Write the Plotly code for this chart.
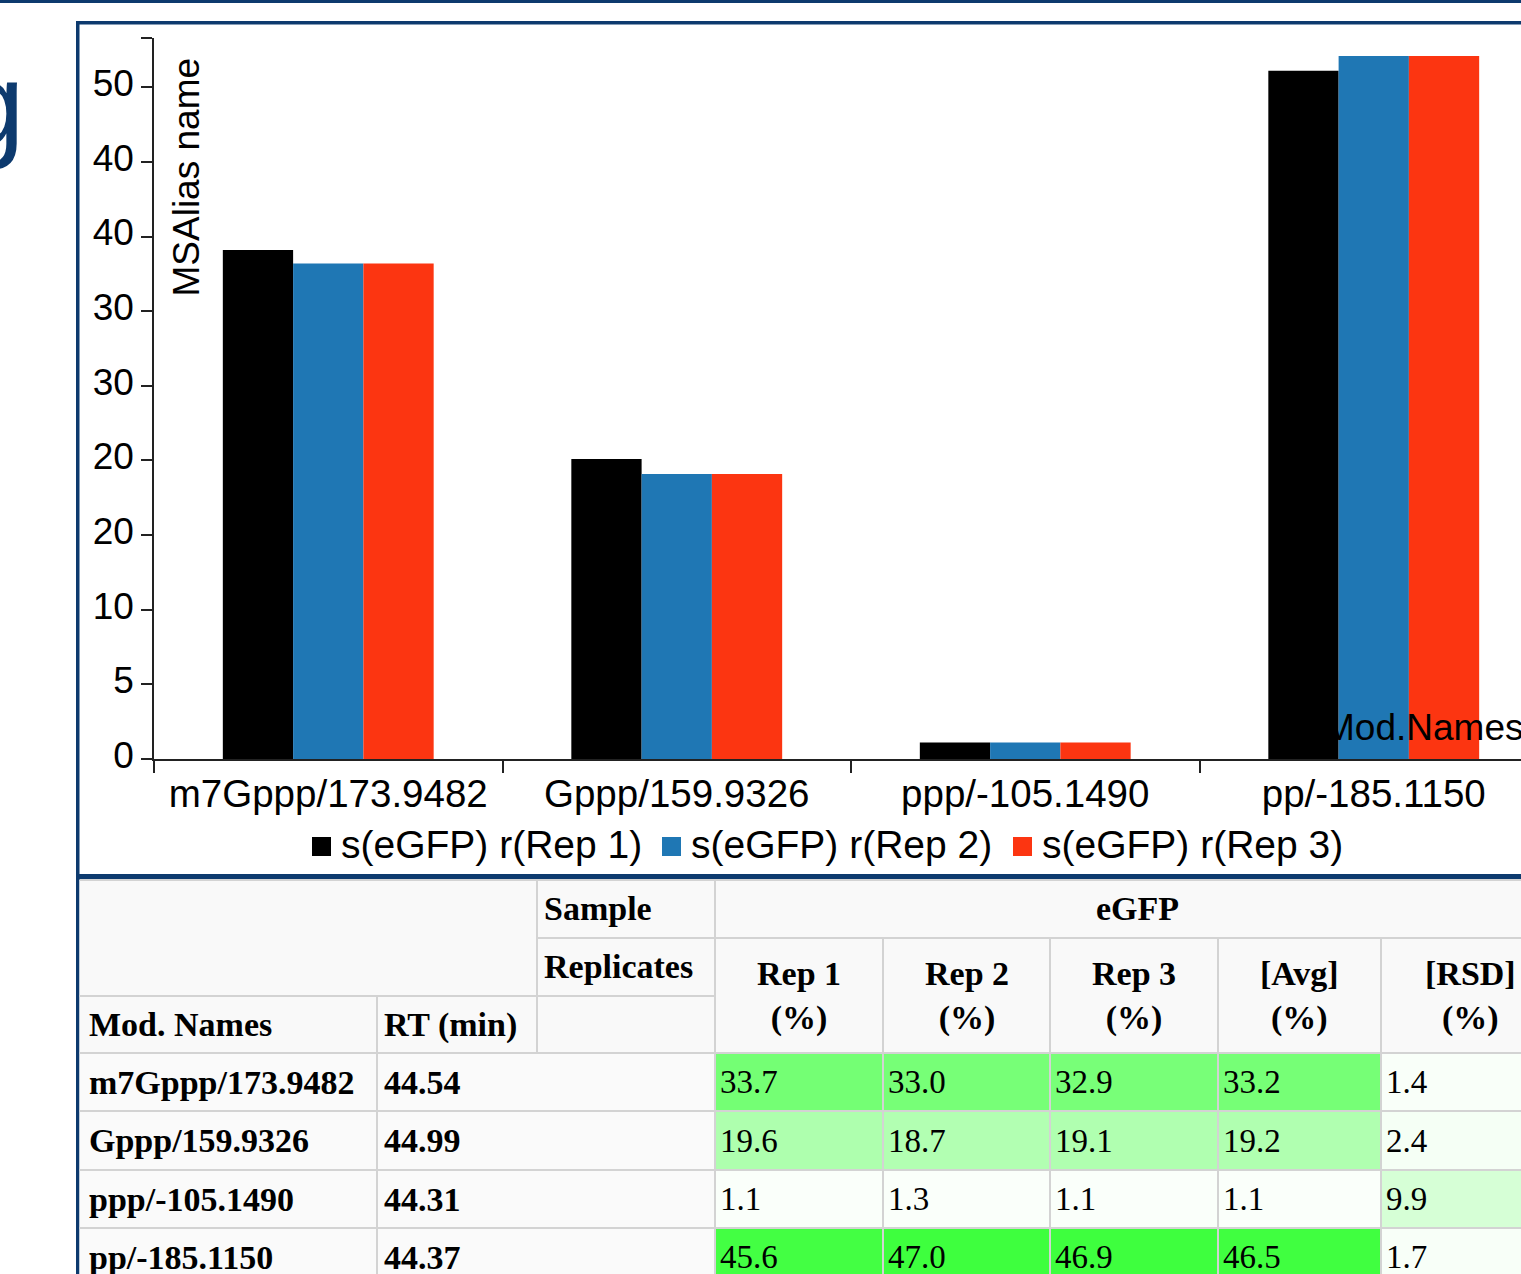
import plotly.graph_objects as go

# ---------------- data ----------------
categories = ["m7Gppp/173.9482", "Gppp/159.9326", "ppp/-105.1490", "pp/-185.1150"]
series_names = ["s(eGFP) r(Rep 1)", "s(eGFP) r(Rep 2)", "s(eGFP) r(Rep 3)"]
rep1_bar = [34.1, 20.1, 1.1, 46.1]
rep2_bar = [33.2, 19.1, 1.1, 47.1]
rep3_bar = [33.2, 19.1, 1.1, 47.1]
y_tick_vals = [0, 5, 10, 15, 20, 25, 30, 35, 40, 45]
y_tick_text = ["0", "5", "10", "20", "20", "30", "30", "40", "40", "50"]
y_max = 48.3
y_title = "MSAlias name"
x_title = "Mod.Names"
slide_title_fragment = "g"

table_rt = ["44.54", "44.99", "44.31", "44.37"]
rep1_pct = [33.7, 19.6, 1.1, 45.6]
rep2_pct = [33.0, 18.7, 1.3, 47.0]
rep3_pct = [32.9, 19.1, 1.1, 46.9]
avg_pct = [33.2, 19.2, 1.1, 46.5]
rsd_pct = [1.4, 2.4, 9.9, 1.7]
value_headers = ["Rep 1<br>(%)", "Rep 2<br>(%)", "Rep 3<br>(%)", "[Avg]<br>(%)", "[RSD]<br>(%)"]
sample_label = "Sample"
replicates_label = "Replicates"
sample_name = "eGFP"
name_header = "Mod. Names"
rt_header = "RT (min)"

# ---------------- styles ----------------
series_colors = ["#000000", "#1F77B4", "#FC3511"]
NAVY = "#0D3A6E"
GRID = "#D3D3D3"
HEAD_BG = "#F9F9F9"
SANS = "Liberation Sans, Arial, sans-serif"
SERIF = "Liberation Serif, Times New Roman, serif"

W, H = 1521, 1274
PL, PR, PT, PB = 154, 1521, 38, 759   # plot area in pixels
CAT_W = 348.5


def px(x):
    return (x - PL) / (PR - PL)


def py(y):
    return (PB - y) / (PB - PT)


def green(v, k=62.0):
    c = int(round(255 * max(0.0, 1 - v / k)))
    return f"rgb({c},255,{c})"


fig = go.Figure()
bar_sets = [rep1_bar, rep2_bar, rep3_bar]
for name, vals, col in zip(series_names, bar_sets, series_colors):
    fig.add_trace(go.Bar(x=categories, y=vals, name=name, marker_color=col,
                         marker_line_width=0, showlegend=False, hoverinfo="skip"))

shapes = []
annotations = []

# page decorations: top rule, box border, title fragment
shapes.append(dict(type="rect", xref="paper", yref="paper", x0=px(-5), x1=px(W + 5),
                   y0=py(-1), y1=py(3), fillcolor=NAVY, line_width=0, layer="above"))
shapes.append(dict(type="rect", xref="paper", yref="paper", x0=px(76), x1=px(79.5),
                   y0=py(21), y1=py(H + 5), fillcolor=NAVY, line_width=0, layer="above"))
shapes.append(dict(type="rect", xref="paper", yref="paper", x0=px(76), x1=px(W + 5),
                   y0=py(21), y1=py(24.5), fillcolor=NAVY, line_width=0, layer="above"))
annotations.append(dict(text=slide_title_fragment, xref="paper", yref="paper",
                        x=px(27), y=py(104), xanchor="right", yanchor="middle",
                        showarrow=False, font=dict(family=SANS, size=118, color=NAVY)))

# axis titles
annotations.append(dict(text=y_title, xref="paper", yref="paper", x=px(186), y=py(56),
                        xanchor="center", yanchor="top", textangle=-90, showarrow=False,
                        font=dict(family=SANS, size=37, color="black")))
annotations.append(dict(text=x_title, xref="paper", yref="paper", x=px(1322), y=py(727),
                        xanchor="left", yanchor="middle", showarrow=False,
                        font=dict(family=SANS, size=37, color="black")))

# manual legend
leg_sq_x = [312, 662, 1013]
for i, (name, col) in enumerate(zip(series_names, series_colors)):
    x0 = leg_sq_x[i]
    shapes.append(dict(type="rect", xref="paper", yref="paper", x0=px(x0), x1=px(x0 + 19),
                       y0=py(837), y1=py(856), fillcolor=col, line_width=0, layer="above"))
    annotations.append(dict(text=name, xref="paper", yref="paper", x=px(x0 + 27), y=py(844),
                            xanchor="left", yanchor="middle", showarrow=False,
                            font=dict(family=SANS, size=39, color="black")))

# table separator (bottom of chart box)
shapes.append(dict(type="rect", xref="paper", yref="paper", x0=px(76), x1=px(W + 5),
                   y0=py(874), y1=py(880), fillcolor=NAVY, line_width=0, layer="above"))

# ---------------- table ----------------
T_L, T_R = 79.5, 1560
col_x = [79.5, 377, 537, 715, 883, 1050, 1218, 1381, 1560]
row_y = [880, 938, 996, 1053, 1111, 1170, 1228, 1286]


def cell(x0, y0, x1, y1, fill):
    shapes.append(dict(type="rect", xref="paper", yref="paper", x0=px(x0), x1=px(x1),
                       y0=py(y0), y1=py(y1), fillcolor=fill, line_width=0, layer="above"))


def hline(y, x0, x1):
    shapes.append(dict(type="line", xref="paper", yref="paper", x0=px(x0), x1=px(x1),
                       y0=py(y), y1=py(y), line=dict(color=GRID, width=2), layer="above"))


def vline(x, y0, y1):
    shapes.append(dict(type="line", xref="paper", yref="paper", x0=px(x), x1=px(x),
                       y0=py(y0), y1=py(y1), line=dict(color=GRID, width=2), layer="above"))


def text(t, x, y, anchor="left", bold=False, size=None):
    if size is None:
        size = 34 if bold else 33
    annotations.append(dict(text=f"<b>{t}</b>" if bold else t, xref="paper", yref="paper",
                            x=px(x), y=py(y), xanchor=anchor, yanchor="middle",
                            showarrow=False, align="center",
                            font=dict(family=SERIF, size=size, color="black")))


# header background
cell(T_L, row_y[0], T_R, row_y[3], HEAD_BG)
# data cells
value_cols = [rep1_pct, rep2_pct, rep3_pct, avg_pct, rsd_pct]
for r in range(4):
    y0, y1 = row_y[3 + r], row_y[4 + r]
    cell(col_x[0], y0, col_x[3], y1, "#FAFAFA")
    for c, vals in enumerate(value_cols):
        cell(col_x[3 + c], y0, col_x[4 + c], y1, green(vals[r]))

# grid lines
hline(row_y[0], T_L, T_R)
hline(row_y[1], col_x[2], T_R)
hline(row_y[2], T_L, col_x[3])
for y in row_y[3:7]:
    hline(y, T_L, T_R)
vline(col_x[1], row_y[2], H + 10)
vline(col_x[2], row_y[0], row_y[3])
vline(col_x[3], row_y[0], H + 10)
for x in col_x[4:8]:
    vline(x, row_y[1], H + 10)

# header text
text(sample_label, col_x[2] + 5, (row_y[0] + row_y[1]) / 2, bold=True)
text(replicates_label, col_x[2] + 5, (row_y[1] + row_y[2]) / 2, bold=True)
text(sample_name, (col_x[3] + T_R) / 2, (row_y[0] + row_y[1]) / 2, anchor="center", bold=True)
text(name_header, col_x[0] + 7, (row_y[2] + row_y[3]) / 2, bold=True)
text(rt_header, col_x[1] + 5, (row_y[2] + row_y[3]) / 2, bold=True)
for c, hdr in enumerate(value_headers):
    text(hdr, (col_x[3 + c] + col_x[4 + c]) / 2, (row_y[1] + row_y[3]) / 2, anchor="center", bold=True)

# data text
for r in range(4):
    yc = (row_y[3 + r] + row_y[4 + r]) / 2
    text(categories[r], col_x[0] + 7, yc, bold=True)
    text(table_rt[r], col_x[1] + 5, yc, bold=True)
    for c, vals in enumerate(value_cols):
        text(f"{vals[r]:.1f}", col_x[3 + c] + 3, yc)

fig.update_layout(
    width=W, height=H, template="none",
    paper_bgcolor="white", plot_bgcolor="white",
    margin=dict(l=PL, r=W - PR, t=PT, b=H - PB, pad=0, autoexpand=False),
    barmode="group", bargap=0.395, bargroupgap=0,
    showlegend=False, hovermode=False,
    shapes=shapes, annotations=annotations,
    font=dict(family=SANS, color="black"),
)
fig.update_xaxes(range=[-0.5, -0.5 + (PR - PL) / CAT_W], tickson="boundaries", ticks="outside",
                 ticklen=12, tickwidth=1.5, tickcolor="#222", showline=True, linecolor="#222",
                 linewidth=1.5, showgrid=False, zeroline=False, automargin=False,
                 tickfont=dict(family=SANS, size=38.5, color="black"))
fig.update_yaxes(range=[0, y_max], tickvals=y_tick_vals + [y_max], ticktext=y_tick_text + [""],
                 ticks="outside", ticklen=11, tickwidth=1.5, tickcolor="#222", showline=True,
                 linecolor="#222", linewidth=1.5, showgrid=False, zeroline=False, automargin=False,
                 ticklabelshift=-4,
                 tickfont=dict(family=SANS, size=37, color="black"))

fig.write_html("out.html", config={"displayModeBar": False},
               post_script="document.body.style.margin='0';document.body.style.overflow='hidden';")
